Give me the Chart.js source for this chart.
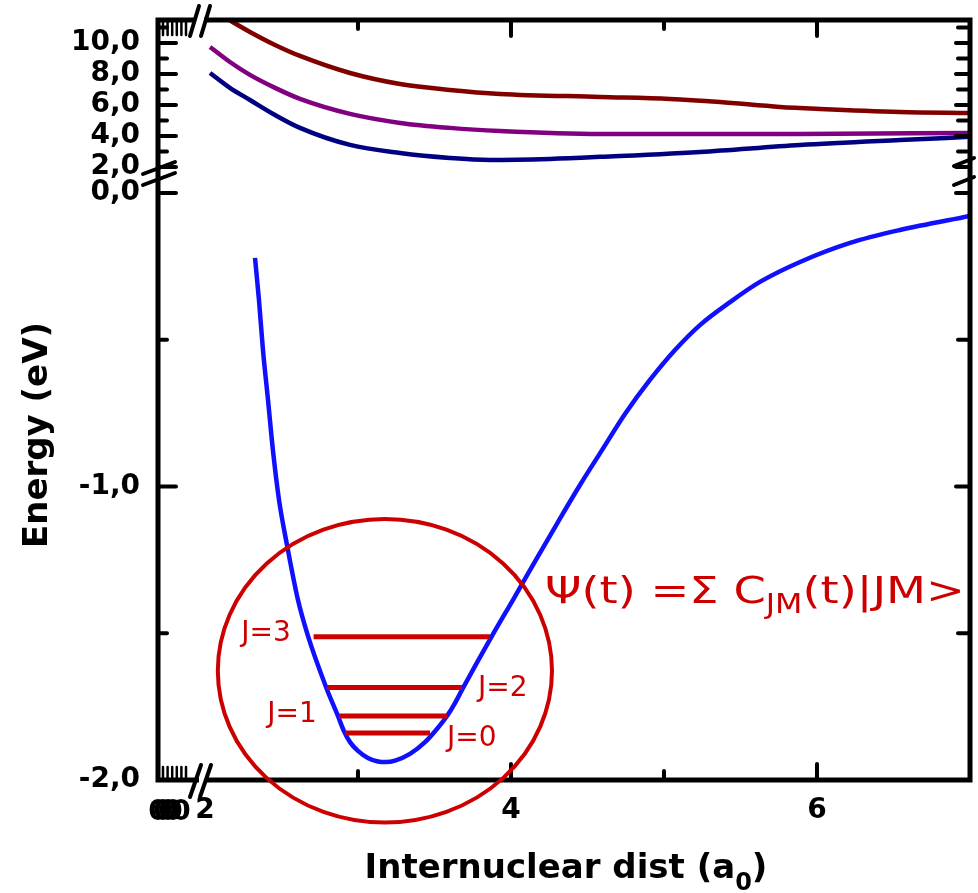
<!DOCTYPE html>
<html><head><meta charset="utf-8">
<script src="https://cdn.jsdelivr.net/npm/chart.js@4.4.1/dist/chart.umd.min.js"></script>
<style>html,body{margin:0;padding:0;background:#fff}canvas{display:block}</style>
</head><body>
<canvas id="c" width="978" height="893"></canvas>
<script>
// ---------- data ----------
const X_TICK_LABELS = [2, 4, 6];
const X_MAJOR_MARKS = [4, 6];
const X_MINOR_MARKS = [3, 5];
const TOP_TICKS = [2, 4, 6, 8, 10];
const TOP_MINOR = [3, 5, 7, 9, 11];
const BOT_TICKS = [0, -1, -2];
const BOT_MINOR = [-0.5, -1.5];

// ground state (blue), lower panel
const GROUND_R = [2.327, 2.353, 2.379, 2.412, 2.444, 2.484, 2.536, 2.608, 2.673, 2.791, 2.869, 2.908, 2.948, 3.000, 3.065, 3.131, 3.183, 3.242, 3.340, 3.438, 3.516, 3.582, 3.634, 3.686, 3.876, 4.020, 4.163, 4.307, 4.451, 4.595, 4.745, 4.908, 5.072, 5.235, 5.431, 5.627, 5.889, 6.216, 6.542, 7.000];
const GROUND_E = [-0.221, -0.365, -0.535, -0.705, -0.876, -1.046, -1.199, -1.387, -1.509, -1.683, -1.782, -1.833, -1.871, -1.901, -1.925, -1.937, -1.939, -1.934, -1.911, -1.871, -1.826, -1.782, -1.738, -1.687, -1.509, -1.380, -1.250, -1.121, -0.995, -0.876, -0.753, -0.637, -0.535, -0.450, -0.372, -0.303, -0.235, -0.170, -0.126, -0.078];

// excited states, upper panel
const NAVY_R = [2.033, 2.163, 2.294, 2.458, 2.621, 2.948, 3.275, 3.601, 3.863, 4.255, 4.582, 5.235, 5.889, 6.542, 7.000];
const NAVY_E = [8.06, 7.10, 6.32, 5.35, 4.52, 3.42, 2.90, 2.58, 2.45, 2.52, 2.65, 2.97, 3.42, 3.74, 3.94];
const PURPLE_R = [2.033, 2.163, 2.294, 2.458, 2.621, 2.948, 3.275, 3.601, 3.928, 4.582, 5.235, 5.889, 7.000];
const PURPLE_E = [9.74, 8.77, 7.94, 7.10, 6.39, 5.42, 4.84, 4.52, 4.32, 4.13, 4.13, 4.13, 4.19];
const MAROON_R = [2.124, 2.294, 2.458, 2.621, 2.948, 3.275, 3.601, 3.928, 4.582, 5.039, 5.366, 5.758, 6.020, 6.542, 7.000];
const MAROON_E = [11.68, 10.71, 9.87, 9.16, 8.06, 7.35, 6.97, 6.71, 6.52, 6.39, 6.19, 5.87, 5.74, 5.55, 5.48];

// rotational levels
const J_NAMES = ['J=0', 'J=1', 'J=2', 'J=3'];
const J_ENERGY = [-1.840, -1.782, -1.685, -1.512];
const J_R_START = [2.915, 2.876, 2.797, 2.710];
const J_R_END = [3.471, 3.582, 3.680, 3.863];

// ---------- helpers / styles ----------
const zip = (xs, ys) => xs.map((x, i) => ({x, y: ys[i]}));
const fmt = v => (Math.round(v * 10) / 10).toFixed(1).replace('.', ',');
const FONT = "'DejaVu Sans', sans-serif";
const RED = '#cc0000';

const J_LABEL_POS = [ // [r, E, align]
  [3.582, -1.860, 'left'],
  [2.569, -1.779, 'center'],
  [3.784, -1.690, 'left'],
  [2.399, -1.500, 'center']
];
const CIRCLE = {r: 3.176, e: -1.628, rr: 1.092, re: 0.517};
const PSI_POS = {r: 4.222, e: -1.363, width: 420};

const datasets = [];
J_NAMES.forEach((n, i) => datasets.push({
  label: n, yAxisID: 'yBot', borderColor: RED, borderWidth: 5, pointRadius: 0,
  data: [{x: J_R_START[i], y: J_ENERGY[i]}, {x: J_R_END[i], y: J_ENERGY[i]}]
}));
const curve = (label, axis, color, xs, ys) => ({label, yAxisID: axis, borderColor: color, borderWidth: 4.5,
  pointRadius: 0, cubicInterpolationMode: 'monotone', data: zip(xs, ys)});
datasets.push(curve('X', 'yBot', '#1010ff', GROUND_R, GROUND_E));
datasets.push(curve('A', 'yTop', '#000080', NAVY_R, NAVY_E));
datasets.push(curve('B', 'yTop', '#800080', PURPLE_R, PURPLE_E));
datasets.push(curve('C', 'yTop', '#800000', MAROON_R, MAROON_E));

const decor = {
  id: 'decor',
  afterDatasetsDraw(chart) {
    const {ctx, chartArea: a, scales} = chart;
    const X = scales.x, YT = scales.yTop, YB = scales.yBot;
    ctx.save();
    ctx.strokeStyle = '#000';
    const seg = (x1, y1, x2, y2) => { ctx.beginPath(); ctx.moveTo(x1, y1); ctx.lineTo(x2, y2); ctx.stroke(); };
    // frame
    ctx.lineWidth = 5; ctx.lineJoin = 'miter'; ctx.lineCap = 'butt';
    ctx.strokeRect(a.left, a.top, a.right - a.left, a.bottom - a.top);
    ctx.lineCap = 'round';
    ctx.lineWidth = 4;
    // y ticks
    TOP_TICKS.forEach(v => { const p = YT.getPixelForValue(v); seg(a.left, p, a.left + 18, p); seg(a.right, p, a.right - 14, p); });
    TOP_MINOR.forEach(v => { const p = YT.getPixelForValue(v); seg(a.left, p, a.left + 9, p); seg(a.right, p, a.right - 12, p); });
    BOT_TICKS.forEach(v => { const p = YB.getPixelForValue(v); seg(a.left, p, a.left + 18, p); seg(a.right, p, a.right - 14, p); });
    BOT_MINOR.forEach(v => { const p = YB.getPixelForValue(v); seg(a.left, p, a.left + 9, p); seg(a.right, p, a.right - 12, p); });
    // x ticks
    X_MAJOR_MARKS.forEach(v => { const p = X.getPixelForValue(v); seg(p, a.bottom, p, a.bottom - 16); seg(p, a.top, p, a.top + 16); });
    X_MINOR_MARKS.forEach(v => { const p = X.getPixelForValue(v); seg(p, a.bottom, p, a.bottom - 9); seg(p, a.top, p, a.top + 9); });
    // compressed segment ticks on x axis (left of break)
    ctx.lineWidth = 2.5;
    for (let i = 0; i < 6; i++) {
      const p = a.left + 5 + i * 4.6;
      seg(p, a.top, p, a.top + 15);
      seg(p, a.bottom, p, a.bottom - 13);
    }
    // breaks
    ctx.fillStyle = '#fff';
    ctx.fillRect(a.left + 37, a.top - 4, 9, 8);
    ctx.fillRect(a.left + 41, a.bottom - 4, 8, 8);
    ctx.lineWidth = 4;
    seg(a.left + 32, a.top + 16, a.left + 41, a.top - 14);
    seg(a.left + 43, a.top + 16, a.left + 52, a.top - 14);
    seg(a.left + 32, a.bottom + 17, a.left + 43, a.bottom - 15);
    seg(a.left + 42, a.bottom + 17, a.left + 53, a.bottom - 15);
    const yb = YT.bottom;
    seg(a.left - 15, yb - 1, a.left + 17, yb - 13);
    seg(a.left - 15, yb + 10, a.left + 17, yb - 2);
    seg(a.right - 16, yb - 9, a.right + 4, yb - 17);
    seg(a.right - 16, yb + 10, a.right + 4, yb + 2);
    // overlapping zero labels of the compressed segment
    ctx.fillStyle = '#000';
    ctx.font = `bold 28px ${FONT}`;
    ctx.textAlign = 'center'; ctx.textBaseline = 'middle';
    [0, 5, 10, 15, 23].forEach(d => ctx.fillText('0', a.left + d, a.bottom + 33));
    // circle
    ctx.strokeStyle = RED; ctx.lineWidth = 4;
    const cx = X.getPixelForValue(CIRCLE.r), cy = YB.getPixelForValue(CIRCLE.e);
    const rx = X.getPixelForValue(CIRCLE.r + CIRCLE.rr) - cx;
    const ry = YB.getPixelForValue(CIRCLE.e - CIRCLE.re) - cy;
    ctx.beginPath(); ctx.ellipse(cx, cy, rx, ry, 0, 0, Math.PI * 2); ctx.stroke();
    // J labels
    ctx.fillStyle = RED;
    ctx.font = `28px ${FONT}`;
    J_NAMES.forEach((n, i) => {
      const [r, e, al] = J_LABEL_POS[i];
      ctx.textAlign = al;
      ctx.fillText(n, X.getPixelForValue(r), YB.getPixelForValue(e));
    });
    // Psi equation
    const px = X.getPixelForValue(PSI_POS.r), py = YB.getPixelForValue(PSI_POS.e);
    const parts = [['Ψ(t) =Σ C', 38, 0], ['JM', 26, 13], ['(t)|JM>', 38, 0]];
    let w = 0;
    parts.forEach(p => { ctx.font = `${p[1]}px ${FONT}`; w += ctx.measureText(p[0]).width; });
    const sx = PSI_POS.width / w;
    ctx.translate(px, py); ctx.scale(sx, 1);
    ctx.textAlign = 'left';
    let off = 0;
    parts.forEach(p => { ctx.font = `${p[1]}px ${FONT}`; ctx.fillText(p[0], off, p[2]); off += ctx.measureText(p[0]).width; });
    ctx.setTransform(1, 0, 0, 1, 0, 0);
    // axis titles
    ctx.fillStyle = '#000';
    ctx.textAlign = 'left'; ctx.textBaseline = 'alphabetic';
    const t1 = 'Internuclear dist (a';
    ctx.font = `bold 34px ${FONT}`;
    const w1 = ctx.measureText(t1).width;
    ctx.font = `bold 24px ${FONT}`;
    const w2 = ctx.measureText('0').width;
    ctx.font = `bold 34px ${FONT}`;
    const w3 = ctx.measureText(')').width;
    const tx = 566 - (w1 + w2 + w3) / 2;
    const ty = 878;
    ctx.fillText(t1, tx, ty);
    ctx.font = `bold 24px ${FONT}`; ctx.fillText('0', tx + w1, ty + 12);
    ctx.font = `bold 34px ${FONT}`; ctx.fillText(')', tx + w1 + w2, ty);
    ctx.translate(38, 435); ctx.rotate(-Math.PI / 2);
    ctx.textAlign = 'center'; ctx.textBaseline = 'middle';
    ctx.fillText('Energy (eV)', 0, 0);
    ctx.restore();
  }
};

const noPad = s => { s.paddingTop = 0; s.paddingBottom = 0; s.paddingLeft = 0; s.paddingRight = 0; };
const tickFont = {family: FONT, size: 28, weight: 'bold'};
new Chart(document.getElementById('c'), {
  type: 'line',
  data: {datasets},
  options: {
    responsive: false, animation: false, devicePixelRatio: 1,
    layout: {padding: {top: 20, right: 8, left: 0, bottom: 0}},
    plugins: {legend: {display: false}, tooltip: {enabled: false}},
    scales: {
      x: {
        type: 'linear', position: 'bottom', min: 1.693, max: 7,
        grid: {display: false, drawTicks: false}, border: {display: false},
        ticks: {font: tickFont, color: '#000', padding: 14, autoSkip: false, maxRotation: 0, callback: v => String(v)},
        afterBuildTicks: s => { s.ticks = X_TICK_LABELS.map(v => ({value: v})); },
        afterFit: s => { s.height = 113; noPad(s); }
      },
      yBot: {
        type: 'linear', position: 'left', stack: 'y', stackWeight: 605, min: -2, max: 0.0613,
        grid: {display: false, drawTicks: false}, border: {display: false},
        ticks: {font: tickFont, color: '#000', padding: 18, autoSkip: false, callback: v => fmt(v)},
        afterBuildTicks: s => { s.ticks = BOT_TICKS.map(v => ({value: v})); },
        afterFit: s => { s.width = 158; noPad(s); }
      },
      yTop: {
        type: 'linear', position: 'left', stack: 'y', stackWeight: 155, min: 1.48, max: 11.48,
        grid: {display: false, drawTicks: false}, border: {display: false},
        ticks: {font: tickFont, color: '#000', padding: 18, autoSkip: false, callback: v => fmt(v)},
        afterBuildTicks: s => { s.ticks = TOP_TICKS.map(v => ({value: v})); },
        afterFit: s => { s.width = 158; noPad(s); }
      }
    }
  },
  plugins: [decor]
});
</script>
</body></html>
